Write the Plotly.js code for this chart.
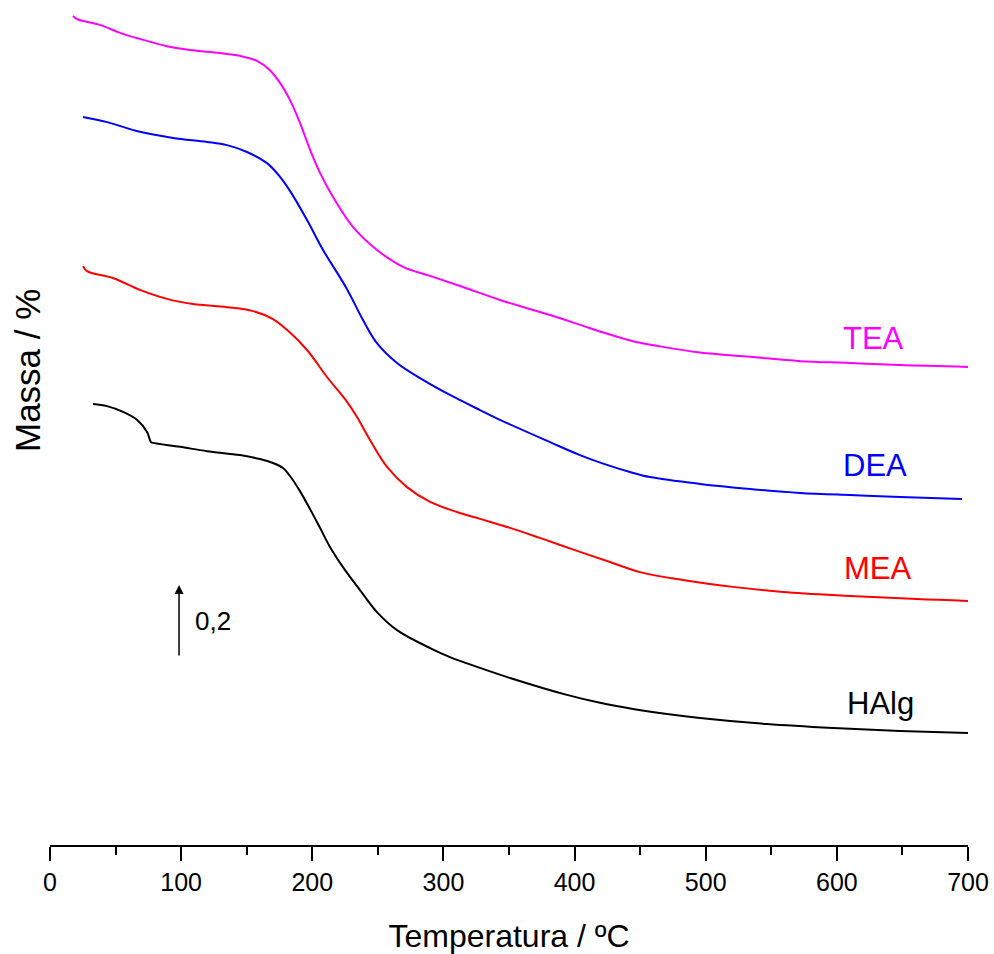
<!DOCTYPE html>
<html>
<head>
<meta charset="utf-8">
<script src="https://cdn.plot.ly/plotly-3.0.1.min.js"></script>
<style>html,body{margin:0;padding:0;background:#fff;}#chart{width:994px;height:954px;}</style>
</head>
<body>
<div id="chart"></div>
<script>
// Temperature (°C) and relative mass (arbitrary offset units; arrow = 0,2)
const teaT = [17.5,20.6,38.1,53.4,68.6,89.2,106.8,129.6,144.9,157.8,167.5,175.4,183.0,190.6,198.3,205.9,215.8,231.0,249.3,269.2,289.8,314.9,343.1,381.3,405.0,425.0,446.0,465.1,495.6,533.8,571.9,610.0,648.1,700];
const teaM = [2.303,2.294,2.278,2.256,2.239,2.219,2.208,2.200,2.192,2.178,2.153,2.117,2.069,2.006,1.931,1.867,1.800,1.717,1.653,1.606,1.581,1.550,1.514,1.472,1.444,1.420,1.398,1.385,1.368,1.356,1.344,1.339,1.333,1.328];

const deaT = [25.2,43.5,68.6,93.8,119.7,135.0,150.2,165.5,175.4,183.0,196.0,208.2,226.5,238.7,249.3,264.6,284.4,305.0,327.9,343.1,381.3,404.1,427.0,442.3,457.5,495.6,533.8,571.9,610.0,648.1,695.4];
const deaM = [2.022,2.008,1.981,1.964,1.953,1.944,1.925,1.894,1.856,1.817,1.736,1.653,1.544,1.458,1.394,1.339,1.292,1.250,1.208,1.181,1.119,1.083,1.053,1.036,1.022,1.003,0.989,0.978,0.972,0.967,0.961];

const meaT = [25.2,28.2,48.0,68.6,89.2,109.0,135.0,154.8,170.0,180.7,196.0,211.2,226.5,234.1,244.0,257.0,272.2,289.8,310.3,327.9,350.8,373.6,400.3,427.0,449.9,482.7,520.8,558.9,610.0,661.1,700];
const meaM = [1.608,1.594,1.575,1.542,1.517,1.503,1.494,1.483,1.461,1.431,1.375,1.300,1.231,1.189,1.125,1.050,0.994,0.953,0.925,0.906,0.881,0.853,0.819,0.786,0.758,0.736,0.717,0.703,0.692,0.683,0.678];

const halgT = [32.8,43.5,55.7,66.3,74.0,77.0,78.5,99.1,119.7,144.9,160.1,170.0,177.7,183.0,190.6,198.3,205.9,213.5,223.4,236.4,249.3,264.6,289.8,305.0,327.9,350.8,394.2,419.4,444.6,470.5,495.6,546.7,597.1,648.1,700];
const halgM = [1.225,1.219,1.203,1.181,1.147,1.119,1.117,1.106,1.094,1.083,1.072,1.061,1.047,1.025,0.983,0.933,0.881,0.828,0.772,0.708,0.647,0.597,0.547,0.522,0.492,0.464,0.417,0.395,0.378,0.364,0.353,0.336,0.325,0.317,0.311];

const seriesNames = ["TEA","DEA","MEA","HAlg"];
const labelT = [627.6,629.0,631.4,633.0];
const labelM = [1.408,1.053,0.769,0.394];
const tickVals = [0,100,200,300,400,500,600,700];
const scaleArrowT = 98.4;
const scaleArrowFrom = 0.522;
const scaleArrowTo = 0.722;
const scaleLabel = "0,2";

const colors = ["#FF00FF","#0000FF","#FF0000","#000000"];
const xs = [teaT,deaT,meaT,halgT];
const ys = [teaM,deaM,meaM,halgM];
const font = "Liberation Sans, Arial, sans-serif";

const traces = xs.map((x,i)=>({
  x: x, y: ys[i], type:"scatter", mode:"lines", name: seriesNames[i],
  line:{color:colors[i], width:2, shape:"spline", smoothing:1},
  hoverinfo:"skip"
}));

const annotations = seriesNames.map((n,i)=>({
  x: labelT[i], y: labelM[i], xref:"x", yref:"y", text:n, showarrow:false,
  font:{family:font, size:31, color:colors[i]}, xanchor:"center", yanchor:"middle"
}));
annotations.push({
  x: scaleArrowT, y: scaleArrowTo, ax: scaleArrowT, ay: scaleArrowFrom,
  xref:"x", yref:"y", axref:"x", ayref:"y", text:"", showarrow:true,
  arrowhead:2, arrowsize:1.2, arrowwidth:1.5, arrowcolor:"#000"
});
annotations.push({
  x: 124.3, y: 0.622, xref:"x", yref:"y", text: scaleLabel, showarrow:false,
  font:{family:font, size:26, color:"#000"}, xanchor:"center", yanchor:"middle"
});

const plotH = 954-5-109;
const plotW = 994-50-26;
annotations.push({
  x: (27-50)/plotW, y: (954-109-371)/plotH, xref:"paper", yref:"paper", text:"Massa / %", showarrow:false,
  textangle:-90, font:{family:font, size:35, color:"#000"}, xanchor:"center", yanchor:"middle"
});

const layout = {
  width:994, height:954,
  margin:{l:50, r:26, t:5, b:109},
  paper_bgcolor:"#fff", plot_bgcolor:"#fff",
  showlegend:false,
  xaxis:{
    range:[0,700], tickvals:tickVals, ticktext:tickVals.map(String),
    showgrid:false, zeroline:false, showline:true, linecolor:"#000", linewidth:2,
    ticks:"outside", ticklen:14, tickwidth:2, tickcolor:"#000",
    minor:{dtick:50, tick0:0, ticks:"outside", ticklen:8, tickwidth:2, tickcolor:"#000", showgrid:false},
    tickfont:{family:font, size:25, color:"#000"},
    title:{text:"Temperatura / ºC", font:{family:font, size:32, color:"#000"}, standoff:31}
  },
  yaxis:{range:[0,2.3333], visible:false, showgrid:false, zeroline:false},
  annotations: annotations
};

Plotly.newPlot("chart", traces, layout, {staticPlot:true});
</script>
</body>
</html>
